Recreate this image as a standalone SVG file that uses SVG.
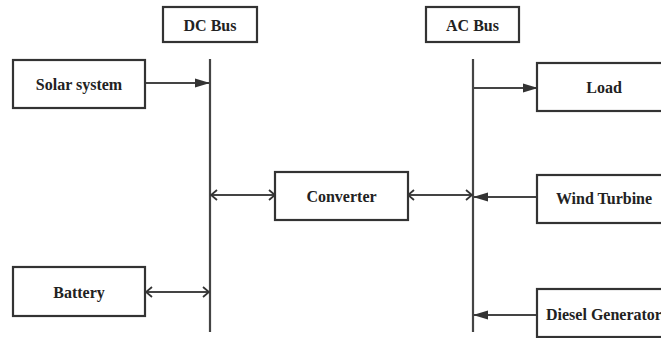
<svg xmlns="http://www.w3.org/2000/svg" width="661" height="338" viewBox="0 0 661 338">
<style>
.box{fill:#fff;stroke:#333;stroke-width:2.2}
.lbl{font-family:"Liberation Serif","Times New Roman",serif;font-weight:bold;font-size:16px;fill:#222;text-anchor:middle;dominant-baseline:central}
.bus{stroke:#444;stroke-width:2.2;fill:none}
.con{stroke:#444;stroke-width:1.8;fill:none}
</style>
<defs>
<marker id="fill" markerWidth="15" markerHeight="10" refX="14" refY="5" orient="auto" markerUnits="userSpaceOnUse">
<path d="M0,0.5 L15,5 L0,9.5 Z" fill="#333"/>
</marker>
<marker id="open" markerWidth="8" markerHeight="12" refX="7" refY="6" orient="auto-start-reverse" markerUnits="userSpaceOnUse">
<path d="M1,1 L7,6 L1,11" fill="none" stroke="#333" stroke-width="1.8"/>
</marker>
</defs>
<rect width="661" height="338" fill="#fff"/>
<g id="connectors">
<line class="bus" x1="210" y1="59" x2="210" y2="332"/>
<line class="bus" x1="473" y1="59" x2="473" y2="332"/>
<line class="con" x1="145" y1="83" x2="209" y2="83" marker-end="url(#fill)"/>
<line class="con" x1="473" y1="88" x2="537" y2="88" marker-end="url(#fill)"/>
<line class="con" x1="211" y1="195" x2="275" y2="195" marker-start="url(#open)" marker-end="url(#open)"/>
<line class="con" x1="408" y1="195" x2="472" y2="195" marker-start="url(#open)" marker-end="url(#open)"/>
<line class="con" x1="537" y1="197" x2="474" y2="197" marker-end="url(#fill)"/>
<line class="con" x1="537" y1="315" x2="474" y2="315" marker-end="url(#fill)"/>
<line class="con" x1="146" y1="292" x2="209" y2="292" marker-start="url(#open)" marker-end="url(#open)"/>
</g>
<g id="dcbus"><rect class="box" x="163" y="7" width="94" height="35"/><text class="lbl" x="210" y="25">DC Bus</text></g>
<g id="acbus"><rect class="box" x="426" y="7" width="93" height="35"/><text class="lbl" x="472.5" y="25">AC Bus</text></g>
<g id="solar"><rect class="box" x="13" y="60" width="132" height="48"/><text class="lbl" x="79" y="84">Solar system</text></g>
<g id="battery"><rect class="box" x="13" y="267" width="132" height="49"/><text class="lbl" x="79" y="292">Battery</text></g>
<g id="converter"><rect class="box" x="275" y="172" width="133" height="48"/><text class="lbl" x="341.5" y="196">Converter</text></g>
<g id="load"><rect class="box" x="537" y="63" width="126" height="48"/><text class="lbl" x="604" y="87">Load</text></g>
<g id="wind"><rect class="box" x="537" y="175" width="126" height="48"/><text class="lbl" x="604" y="198">Wind Turbine</text></g>
<g id="diesel"><rect class="box" x="537" y="289" width="126" height="48"/><text class="lbl" x="546" y="314" style="text-anchor:start">Diesel Generator</text></g>
</svg>
